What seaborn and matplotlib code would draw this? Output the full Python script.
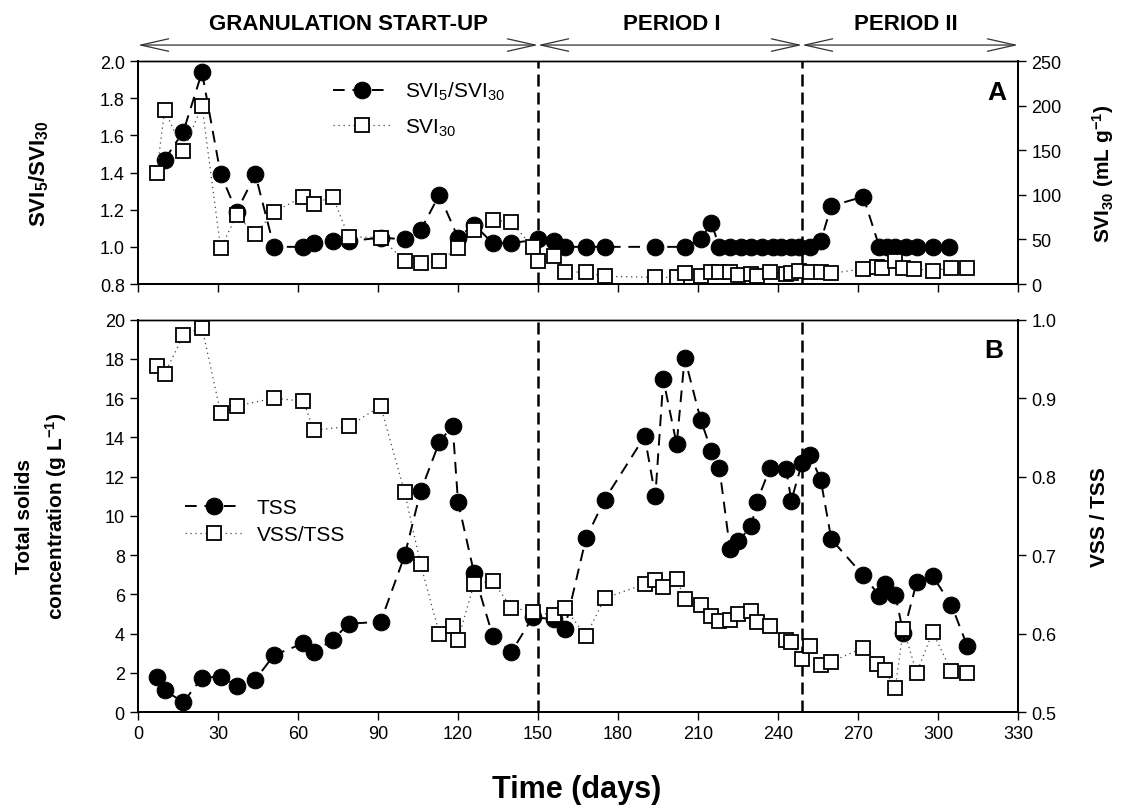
import matplotlib
matplotlib.use("Agg")
import matplotlib.pyplot as plt
import seaborn as sns
import pandas as pd

# ---------------- data ----------------
ratio_days = [10, 17, 24, 31, 37, 44, 51, 62, 66, 73, 79, 91, 100, 106, 113, 120, 126,
              133, 140, 150, 156, 160, 168, 175, 194, 205, 211, 215, 218, 222, 226, 230,
              234, 238, 241, 245, 248, 252, 256, 260, 272, 278, 281, 284, 288, 292, 298, 304]
ratio_vals = [1.47, 1.62, 1.94, 1.39, 1.19, 1.39, 1.00, 1.00, 1.02, 1.03, 1.03, 1.05,
              1.04, 1.09, 1.28, 1.05, 1.12, 1.02, 1.02, 1.04, 1.03, 1.00, 1.00, 1.00,
              1.00, 1.00, 1.04, 1.13, 1.00, 1.00, 1.00, 1.00, 1.00, 1.00, 1.00, 1.00,
              1.00, 1.00, 1.03, 1.22, 1.27, 1.00, 1.00, 1.00, 1.00, 1.00, 1.00, 1.00]

svi30_days = [7, 10, 17, 24, 31, 37, 44, 51, 62, 66, 73, 79, 91, 100, 106, 113, 120, 126,
              133, 140, 148, 150, 156, 160, 168, 175, 194, 202, 205, 211, 215, 218, 222,
              225, 230, 232, 237, 243, 245, 248, 252, 256, 260, 272, 277, 279, 284, 287,
              291, 298, 305, 311]
svi30_vals = [124, 195, 149, 200, 40, 77, 56, 81, 98, 90, 98, 53, 52, 26, 23.5, 26, 40, 61,
              72, 69, 42, 26, 31, 14, 13, 8.6, 7.5, 7.5, 12, 9, 13, 14, 14,
              10, 11, 8.6, 14, 11, 12.5, 14.5, 14, 13, 12, 17, 19, 18, 26, 18,
              17, 15, 18, 18]

tss_days = [7, 10, 17, 24, 31, 37, 44, 51, 62, 66, 73, 79, 91, 100, 106, 113, 118, 120,
            126, 133, 140, 148, 156, 160, 168, 175, 190, 194, 197, 202, 205, 211, 215,
            218, 222, 225, 230, 232, 237, 243, 245, 249, 252, 256, 260, 272, 278, 280,
            284, 287, 292, 298, 305, 311]
tss_vals = [1.8, 1.1, 0.5, 1.75, 1.8, 1.35, 1.65, 2.9, 3.5, 3.08, 3.67, 4.5, 4.6, 7.98,
            11.25, 13.76, 14.6, 10.73, 7.1, 3.89, 3.05, 4.83, 4.74, 4.23, 8.86, 10.83,
            14.05, 11.0, 16.95, 13.64, 18.06, 14.9, 13.33, 12.45, 8.3, 8.7, 9.47, 10.7,
            12.43, 12.4, 10.78, 12.7, 13.1, 11.85, 8.8, 6.96, 5.93, 6.53, 5.97, 4.01,
            6.62, 6.92, 5.47, 3.35]

vss_days = [7, 10, 17, 24, 31, 37, 51, 62, 66, 79, 91, 100, 106, 113, 118, 120, 126, 133,
            140, 148, 156, 160, 168, 175, 190, 194, 197, 202, 205, 211, 215, 218, 222,
            225, 230, 232, 237, 243, 245, 249, 252, 256, 260, 272, 277, 280, 284, 287,
            292, 298, 305, 311]
vss_vals = [0.941, 0.931, 0.980, 0.990, 0.881, 0.890, 0.900, 0.896, 0.859, 0.864, 0.890,
            0.780, 0.688, 0.600, 0.610, 0.592, 0.663, 0.667, 0.633, 0.628, 0.623, 0.633,
            0.597, 0.645, 0.663, 0.668, 0.659, 0.670, 0.644, 0.636, 0.622, 0.616, 0.617,
            0.625, 0.629, 0.615, 0.609, 0.592, 0.589, 0.567, 0.584, 0.560, 0.564, 0.582,
            0.561, 0.553, 0.531, 0.606, 0.550, 0.602, 0.552, 0.550]

period_bounds = [0, 150, 249, 330]
period_names = ["GRANULATION START-UP", "PERIOD I", "PERIOD II"]
period_label_x = [79, 200, 288]
x_ticks = list(range(0, 331, 30))

# ---------------- style ----------------
sns.set_theme(style="ticks")
plt.rcParams["font.family"] = ["Liberation Sans", "DejaVu Sans"]
plt.rcParams["mathtext.fontset"] = "custom"
plt.rcParams["mathtext.rm"] = "Liberation Sans"
plt.rcParams["mathtext.it"] = "Liberation Sans:italic"
plt.rcParams["mathtext.bf"] = "Liberation Sans:bold"
plt.rcParams["xtick.direction"] = "out"
plt.rcParams["ytick.direction"] = "out"
for k in ("text.color", "axes.labelcolor", "xtick.color", "ytick.color",
          "xtick.labelcolor", "ytick.labelcolor", "axes.edgecolor"):
    plt.rcParams[k] = "black"

TICK_FS = 13
LAB_FS = 15
LEG_FS = 15

fig = plt.figure(figsize=(11.31, 8.12), dpi=100)
ax1 = fig.add_axes([0.1220, 0.6490, 0.7781, 0.2746])
ax3 = fig.add_axes([0.1220, 0.1219, 0.7781, 0.4832])
ax2 = ax1.twinx()
ax4 = ax3.twinx()

circ_kw = dict(color="black", marker="o", markersize=12, markerfacecolor="black",
               markeredgecolor="black", linewidth=1.4, linestyle=(0, (6, 4)),
               estimator=None, sort=False)
sq_kw = dict(color="#444444", marker="s", markersize=10, markerfacecolor="white",
             markeredgecolor="black", markeredgewidth=1.3, linewidth=0.9,
             linestyle=(0, (1, 3)), estimator=None, sort=False)

df_r = pd.DataFrame({"day": ratio_days, "v": ratio_vals})
df_s = pd.DataFrame({"day": svi30_days, "v": svi30_vals})
df_t = pd.DataFrame({"day": tss_days, "v": tss_vals})
df_v = pd.DataFrame({"day": vss_days, "v": vss_vals})

sns.lineplot(data=df_r, x="day", y="v", ax=ax1, **circ_kw)
h_ratio = ax1.lines[-1]
sns.lineplot(data=df_s, x="day", y="v", ax=ax2, **sq_kw)
h_svi = ax2.lines[-1]
sns.lineplot(data=df_t, x="day", y="v", ax=ax3, **circ_kw)
h_tss = ax3.lines[-1]
sns.lineplot(data=df_v, x="day", y="v", ax=ax4, **sq_kw)
h_vss = ax4.lines[-1]

for a in (ax1, ax3):
    for b in period_bounds[1:3]:
        a.axvline(b, color="black", linewidth=1.8, linestyle=(0, (4.8, 2.4)), zorder=1)

# limits and ticks
for a in (ax1, ax2, ax3, ax4):
    a.set_xlim(0, 330)
    a.set_xticks(x_ticks)
    a.set_xlabel("")
    a.set_ylabel("")
    a.tick_params(labelsize=TICK_FS, length=6, width=1.0, colors="black")
    for s in a.spines.values():
        s.set_linewidth(1.4)
        s.set_color("black")
    a.spines["top"].set_linewidth(1.0)
    a.spines["top"].set_visible(True)
    a.spines["right"].set_visible(True)

ax1.set_ylim(0.8, 2.0)
ax1.set_yticks([0.8, 1.0, 1.2, 1.4, 1.6, 1.8, 2.0])
ax1.set_yticklabels([f"{v:.1f}" for v in [0.8, 1.0, 1.2, 1.4, 1.6, 1.8, 2.0]])
ax2.set_ylim(0, 250)
ax2.set_yticks([0, 50, 100, 150, 200, 250])
ax1.tick_params(axis="x", labelbottom=False)
ax2.tick_params(axis="x", labelbottom=False)

ax3.set_ylim(0, 20)
ax3.set_yticks(list(range(0, 21, 2)))
ax4.set_ylim(0.5, 1.0)
ax4.set_yticks([0.5, 0.6, 0.7, 0.8, 0.9, 1.0])
ax4.set_yticklabels([f"{v:.1f}" for v in [0.5, 0.6, 0.7, 0.8, 0.9, 1.0]])

# axis labels
ax1.set_ylabel(r"$\mathbf{SVI_5/SVI_{30}}$", fontsize=LAB_FS + 1, fontweight="bold")
ax1.yaxis.set_label_coords(-0.099, 0.5)
ax2.set_ylabel(r"$\mathbf{SVI_{30}}$ (mL g$\mathbf{^{-1}}$)", fontsize=LAB_FS,
               fontweight="bold")
ax2.yaxis.set_label_coords(1.082, 0.5)
fig.text(25 / 1131, 1 - 516 / 812, "Total solids", rotation=90, ha="center",
         va="center", fontsize=LAB_FS, fontweight="bold")
fig.text(56 / 1131, 1 - 516 / 812, r"concentration (g L$\mathbf{^{-1}}$)", rotation=90,
         ha="center", va="center", fontsize=LAB_FS, fontweight="bold")
ax4.set_ylabel("VSS / TSS", fontsize=LAB_FS, fontweight="bold")
ax4.yaxis.set_label_coords(1.082, 0.5)
fig.text(577 / 1131, 1 - 790 / 812, "Time (days)", ha="center", va="center",
         fontsize=22, fontweight="bold")

# panel letters
ax2.text(0.987, 0.86, "A", transform=ax2.transAxes, ha="right", va="center",
         fontsize=19, fontweight="bold")
ax4.text(0.983, 0.922, "B", transform=ax4.transAxes, ha="right", va="center",
         fontsize=19, fontweight="bold")

# legends
ax2.legend([h_ratio, h_svi], [r"SVI$_5$/SVI$_{30}$", r"SVI$_{30}$"], loc="center left",
           bbox_to_anchor=(0.2216, 0.785), frameon=False, fontsize=LEG_FS,
           handlelength=2.75, handletextpad=0.7, borderpad=0, borderaxespad=0,
           labelspacing=0.7)
ax4.legend([h_tss, h_vss], ["TSS", "VSS/TSS"], loc="center left",
           bbox_to_anchor=(0.0534, 0.487), frameon=False, fontsize=LEG_FS,
           handlelength=2.75, handletextpad=0.7, borderpad=0, borderaxespad=0,
           labelspacing=0.38)

# header arrows
trans = ax1.get_xaxis_transform()
for i in range(3):
    ax1.annotate("", xy=(period_bounds[i], 1.0717), xytext=(period_bounds[i + 1], 1.0717),
                 xycoords=trans, textcoords=trans, annotation_clip=False,
                 arrowprops=dict(arrowstyle="<->,head_length=2.0,head_width=0.45",
                                 color="#333333", linewidth=0.9, shrinkA=0, shrinkB=0,
                                 mutation_scale=10))
    ax1.text(period_label_x[i], 1.17, period_names[i], transform=trans, ha="center",
             va="center", fontsize=16, fontweight="bold", clip_on=False)

fig.savefig("out.png", dpi=100)
